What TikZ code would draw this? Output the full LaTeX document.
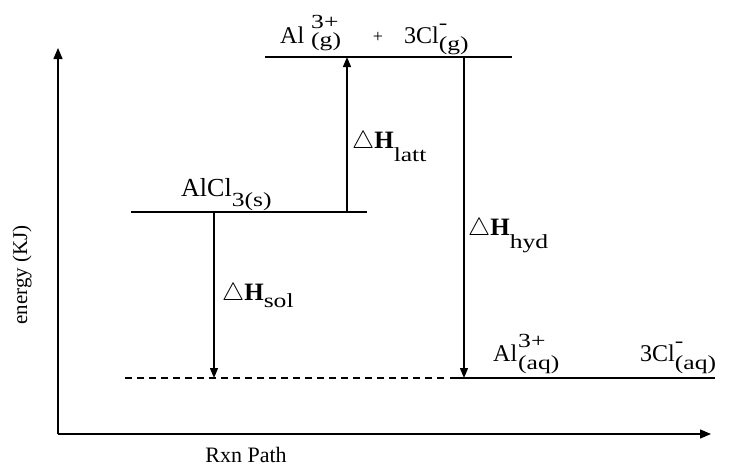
\documentclass[tikz,border=0pt]{standalone}
\usepackage{fontspec}
\usepackage{graphicx}
\setmainfont{Liberation Serif}
\usetikzlibrary{arrows.meta}
\newcommand\sbx[1]{\scalebox{1.28}[1]{\fontsize{20}{20}\selectfont #1}}
% #1 raise of sup, #2 lowering of sub (pt), #3 sup, #4 sub
\newcommand\ionss[4]{\rlap{\raisebox{#1pt}{\sbx{#3}}}\raisebox{-#2pt}{\sbx{#4}}}
\newcommand\lowsub[2]{\raisebox{-#1pt}{\sbx{#2}}}
\newcommand\dH[2]{$\triangle$\textbf{H}\lowsub{#1}{#2}}
\tikzset{
  lvl/.style={line width=1.4pt},
  axisline/.style={line width=1.4pt,-{Triangle[width=9pt,length=11pt]}},
  enarrow/.style={line width=1.3pt,-{Triangle[width=8pt,length=10pt]}},
  chem/.style={inner sep=0pt,anchor=base west,font=\fontsize{24}{26}\selectfont},
  dhlabel/.style={inner sep=0pt,anchor=base west,font=\fontsize{25}{28}\selectfont},
  axlabel/.style={inner sep=0pt,font=\fontsize{21}{24}\selectfont}
}
\begin{document}
\begin{tikzpicture}[x=1pt,y=-1pt]
\useasboundingbox (0,0) rectangle (729,466);
% axes
\coordinate (O) at (58,434);
\coordinate (Ytop) at (58,48);
\coordinate (Xend) at (711,434);
\draw[axisline] (O) -- (Ytop);
\draw[axisline] (O) -- (Xend);
\node[axlabel,rotate=90] (ylab) at (22,275) {energy (KJ)};
\node[axlabel,anchor=base,font=\fontsize{22}{24}\selectfont] (xlab) at (246,462) {Rxn Path};
% levels
\coordinate (topL) at (265,57);
\coordinate (topR) at (512,57);
\coordinate (midL) at (131,212);
\coordinate (midR) at (367,212);
\coordinate (dashL) at (125,378);
\coordinate (dashR) at (448,378);
\coordinate (botL) at (450,378);
\coordinate (botR) at (715,378);
\draw[lvl] (topL) -- (topR);
\draw[lvl] (midL) -- (midR);
\draw[lvl,dash pattern=on 7pt off 5pt] (dashL) -- (dashR);
\draw[lvl] (botL) -- (botR);
% arrows
\coordinate (lattS) at (347,212);
\coordinate (lattE) at (347,57);
\coordinate (hydS) at (464,57);
\coordinate (hydE) at (464,378);
\coordinate (solS) at (214,212);
\coordinate (solE) at (214,378);
\draw[enarrow] (lattS) -- (lattE);
\draw[enarrow] (hydS) -- (hydE);
\draw[enarrow] (solS) -- (solE);
% species labels
\node[chem] (alg) at (280,43) {Al\hspace{7pt}\ionss{15}{3}{3+}{(g)}};
\node[chem,font=\fontsize{18}{20}\selectfont,anchor=base] (plus) at (378,42) {+};
\node[chem] (clg) at (404,43) {3Cl\ionss{14}{7}{-}{(g)}};
\node[chem,font=\fontsize{26}{28}\selectfont] (alcl) at (181,196) {AlCl\lowsub{10}{3(s)}};
\node[chem] (alaq) at (493,361) {Al\hspace{1pt}\ionss{14}{8}{3+}{(aq)}};
\node[chem] (claq) at (640,361) {3Cl\ionss{14}{8}{-}{(aq)}};
% enthalpy labels
\node[dhlabel] (dhlatt) at (352,148) {\dH{13}{latt}};
\node[dhlabel] (dhhyd) at (468,235) {\dH{13}{hyd}};
\node[dhlabel] (dhsol) at (222,300) {\dH{7}{sol}};
\end{tikzpicture}
\end{document}
